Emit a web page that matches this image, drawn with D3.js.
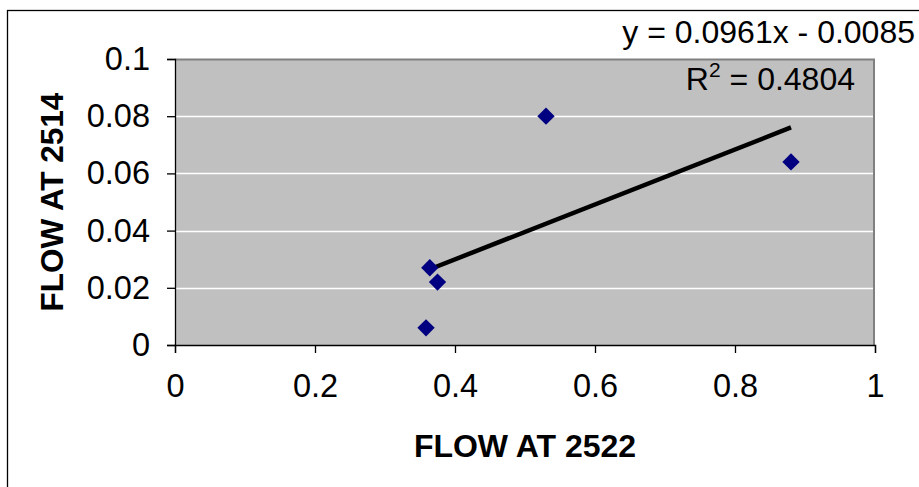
<!DOCTYPE html>
<html>
<head>
<meta charset="utf-8">
<script src="https://cdn.jsdelivr.net/npm/d3@7"></script>
<style>
  body { margin: 0; background: #fff; }
  svg { display: block; font-family: Arial, "Liberation Sans", sans-serif; }
</style>
</head>
<body>
<div id="chart"></div>
<script>
// data
var flow2522 = [0.3586, 0.364, 0.375, 0.53, 0.88];
var flow2514 = [0.006, 0.027, 0.022, 0.080, 0.064];

// trend line as printed on the chart
var trendSlope = [0.0961];
var trendIntercept = [-0.0085];
var trendLabel = ['y = 0.0961x - 0.0085'];
var r2Label = ['0.4804'];

var xTicks = [0, 0.2, 0.4, 0.6, 0.8, 1];
var yTicks = [0, 0.02, 0.04, 0.06, 0.08, 0.1];
var xTitle = 'FLOW AT 2522';
var yTitle = 'FLOW AT 2514';

var W = 919, H = 487;
var margin = {left: 175, right: 44, top: 59, bottom: 142};
var width = W - margin.left - margin.right,
	height = H - margin.top - margin.bottom;

var svg = d3.select('#chart').append('svg')
	.attr('width', W)
	.attr('height', H);

// outer chart frame (runs off the right and bottom edges)
svg.append('rect')
	.attr('x', 7.5).attr('y', 10.5)
	.attr('width', W + 20).attr('height', H + 20)
	.attr('fill', 'none')
	.attr('stroke', '#000')
	.attr('stroke-width', 1.3);

var g = svg.append('g')
	.attr('transform', 'translate(' + margin.left + ',' + margin.top + ')');

var x = d3.scaleLinear().domain([0, 1]).range([0, width]);
var y = d3.scaleLinear().domain([0, 0.1]).range([height, 0]);

// plot area
g.append('rect')
	.attr('width', width).attr('height', height)
	.attr('fill', '#c0c0c0');

// gridlines
g.selectAll('.grid').data(yTicks.slice(1, -1)).enter()
	.append('line')
	.attr('x1', 0).attr('x2', width)
	.attr('y1', function (d) { return Math.round(y(d)) + 0.5; })
	.attr('y2', function (d) { return Math.round(y(d)) + 0.5; })
	.attr('stroke', '#fff')
	.attr('stroke-width', 1.3);

// grey top/right frame of the plot area
g.append('path')
	.attr('d', 'M0,0.5H' + (width - 1) + 'V' + height)
	.attr('fill', 'none')
	.attr('stroke', '#808080')
	.attr('stroke-width', 2);

// axes
var xAxis = d3.axisBottom(x).tickValues(xTicks).tickSize(8).tickPadding(21)
	.tickFormat(d3.format('~g'));
var yAxis = d3.axisLeft(y).tickValues(yTicks).tickSize(8).tickPadding(17)
	.tickFormat(d3.format('~g'));

var gX = g.append('g')
	.attr('transform', 'translate(0,' + height + ')')
	.call(xAxis);
var gY = g.append('g').call(yAxis);

[gX, gY].forEach(function (a) {
	a.select('.domain').attr('stroke', '#000').attr('stroke-width', 1.3);
	a.selectAll('.tick line').attr('stroke', '#000').attr('stroke-width', 1.3);
	a.selectAll('.tick text')
		.attr('font-family', 'Arial, "Liberation Sans", sans-serif')
		.attr('font-size', 32.5)
		.attr('fill', '#000');
});
gX.selectAll('.tick text').attr('dy', '0.72em');

// trend line
var xMin = d3.min(flow2522), xMax = d3.max(flow2522);
var trend = [xMin, xMax].map(function (v) {
	return {x: v, y: trendSlope[0] * v + trendIntercept[0]};
});
g.append('path')
	.attr('d', d3.line()
		.x(function (d) { return x(d.x); })
		.y(function (d) { return y(d.y); })(trend))
	.attr('stroke', '#000')
	.attr('stroke-width', 4.5)
	.attr('fill', 'none');

// diamond markers
var pts = flow2522.map(function (v, i) { return {x: v, y: flow2514[i]}; });
var diamond = d3.symbol().type(d3.symbolSquare).size(150);
g.selectAll('.pt').data(pts).enter()
	.append('path')
	.attr('d', diamond)
	.attr('transform', function (d) {
		return 'translate(' + x(d.x) + ',' + y(d.y) + ') rotate(45)';
	})
	.attr('fill', '#000080');

// equation text
svg.append('text')
	.attr('x', 915).attr('y', 43)
	.attr('text-anchor', 'end')
	.attr('font-size', 32)
	.text(trendLabel[0]);

var r2 = svg.append('text')
	.attr('x', 855).attr('y', 90)
	.attr('text-anchor', 'end')
	.attr('font-size', 32);
r2.append('tspan').text('R');
r2.append('tspan').attr('font-size', 21).attr('dy', -13).text('2');
r2.append('tspan').attr('dy', 13).text(' = ' + r2Label[0]);

// axis titles
svg.append('text')
	.attr('x', margin.left + width / 2).attr('y', 457)
	.attr('text-anchor', 'middle')
	.attr('font-size', 32)
	.attr('font-weight', 'bold')
	.text(xTitle);

svg.append('text')
	.attr('transform', 'translate(63,' + (margin.top + height / 2) + ') rotate(-90)')
	.attr('text-anchor', 'middle')
	.attr('font-size', 31.5)
	.attr('font-weight', 'bold')
	.text(yTitle);
</script>
</body>
</html>
